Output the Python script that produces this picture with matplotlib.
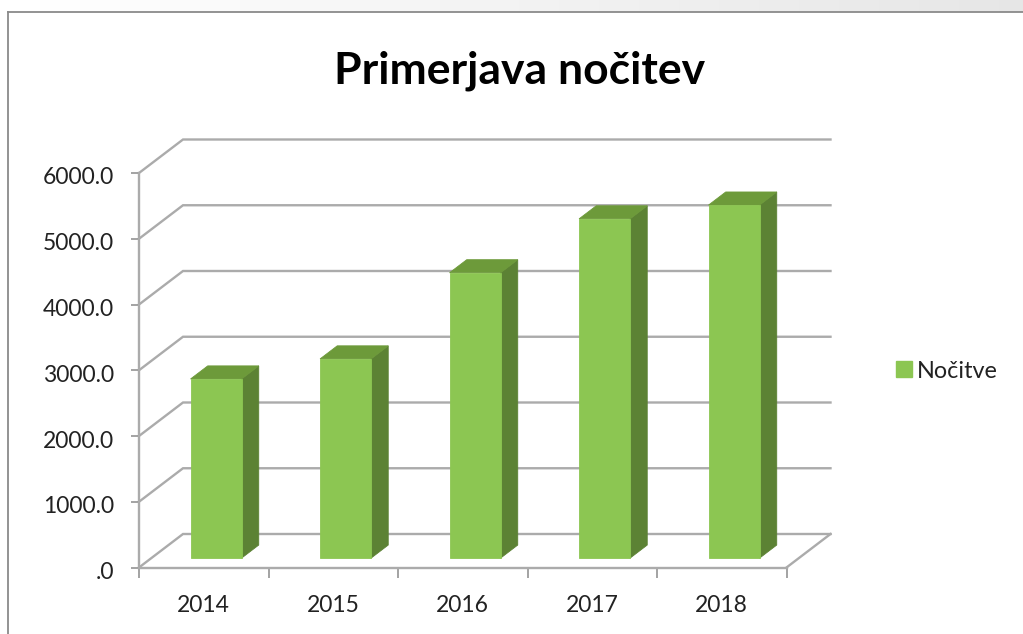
import numpy as np
import matplotlib
matplotlib.use("Agg")
import matplotlib.pyplot as plt
from matplotlib.patches import Polygon, Patch
from matplotlib.transforms import ScaledTranslation

years = ["2014", "2015", "2016", "2017", "2018"]
nights = [2725, 3030, 4340, 5160, 5370]
y_ticks = [0, 1000, 2000, 3000, 4000, 5000, 6000]
y_labels = [".0", "1000.0", "2000.0", "3000.0", "4000.0", "5000.0", "6000.0"]
series_name = "Nočitve"
title = "Primerjava nočitev"

W, H = 1023, 634
plt.rcParams["font.family"] = ["Lato", "DejaVu Sans"]
fig = plt.figure(figsize=(W / 100, H / 100), dpi=100, facecolor="white")


def px(x0, y0, x1, y1):
    """Figure fraction rectangle from pixel corners (y measured from top)."""
    return [x0 / W, 1 - y1 / H, (x1 - x0) / W, (y1 - y0) / H]


# window chrome: faint strip above the panel, fading to white on the left
strip = fig.add_axes(px(0, 0, W, 12))
strip.imshow(np.linspace(1.0, 0.90, 256).reshape(1, -1), cmap="gray", vmin=0, vmax=1, aspect="auto")
strip.axis("off")

# outer frame
frame = fig.add_axes(px(8, 12, W + 4, H + 4), facecolor="white")
frame.set_xticks([])
frame.set_yticks([])
for side in frame.spines:
    frame.spines[side].set_color("#8a8a8a")
    frame.spines[side].set_linewidth(1.3)

# main axes occupy the front plane of the 3-D box
ax = fig.add_axes(px(139, 173, 786.5, 567.5), facecolor="none")
ax.set_xlim(0, len(years))
ax.set_ylim(0, 6000)

unit_x = (786.5 - 139) / len(years)
unit_y = (567.5 - 173) / 6000
off_x = 44 / unit_x          # box depth in data units
off_y = 33.5 / unit_y


def project(x, v, d):
    return (x + d * off_x, v + d * off_y)


GRID = "#ababab"
grid_lw = 1.7
for v in y_ticks:
    pts = [project(0, v, 0), project(0, v, 1), project(len(years), v, 1)]
    ax.plot(*zip(*pts), color=GRID, lw=grid_lw, clip_on=False, zorder=1, solid_joinstyle="miter")
ax.plot(*zip(project(len(years), 0, 0), project(len(years), 0, 1)),
        color=GRID, lw=grid_lw, clip_on=False, zorder=1)

FRONT, SIDE, TOP = "#8cc652", "#5c8234", "#6d9a3a"
half = 25.5 / unit_x
d0, d1 = 0.28, 0.67
for i, val in enumerate(nights):
    xl, xr = i + 0.5 - half, i + 0.5 + half
    front = [project(xl, 0, d0), project(xr, 0, d0), project(xr, val, d0), project(xl, val, d0)]
    side = [project(xr, 0, d0), project(xr, 0, d1), project(xr, val, d1), project(xr, val, d0)]
    top = [project(xl, val, d0), project(xr, val, d0), project(xr, val, d1), project(xl, val, d1)]
    for poly, col in ((side, SIDE), (top, TOP), (front, FRONT)):
        ax.add_patch(Polygon(poly, closed=True, facecolor=col, edgecolor=col, lw=0.6,
                             clip_on=False, zorder=3))

for side in ("top", "right"):
    ax.spines[side].set_visible(False)
for side in ("left", "bottom"):
    ax.spines[side].set_color(GRID)
    ax.spines[side].set_linewidth(grid_lw)

ax.set_yticks(y_ticks, y_labels)
ax.tick_params(axis="y", length=6, width=1.1, color="#8a8a8a", labelsize=16.5, labelcolor="#222222", pad=12)
shift = ScaledTranslation(0, -3 / 72 * 72 / 100, fig.dpi_scale_trans)
for lab in ax.get_yticklabels():
    lab.set_transform(lab.get_transform() + shift)

ax.set_xticks(np.arange(len(years) + 1))
ax.set_xticklabels([])
ax.set_xticks(np.arange(len(years)) + 0.5, years, minor=True)
ax.tick_params(axis="x", which="major", length=7, width=1.1, color="#8a8a8a")
ax.tick_params(axis="x", which="minor", length=0, labelsize=16.5, labelcolor="#222222", pad=20)

fig.text(520 / W, 1 - 71 / H, title, ha="center", va="center", fontsize=32,
         fontweight="bold", color="#000000")

fig.legend(handles=[Patch(facecolor=FRONT, edgecolor=FRONT, label=series_name)],
           loc="center left", bbox_to_anchor=(889 / W, 1 - 371 / H), frameon=False,
           fontsize=16.8, labelcolor="#222222", handlelength=0.68, handleheight=0.68,
           handletextpad=0.2, borderpad=0.3, borderaxespad=0)

fig.savefig("out.png", dpi=100)
